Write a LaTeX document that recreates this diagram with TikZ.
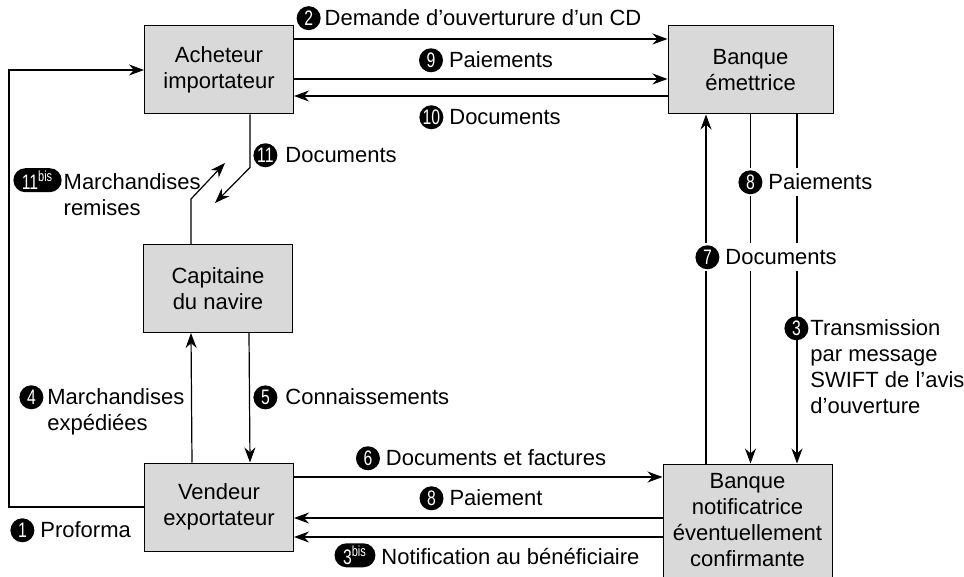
\documentclass[tikz,border=0pt]{standalone}
\usepackage{fontspec}
\setmainfont{Liberation Sans}
\newfontfamily\numfont{Liberation Sans}[FakeStretch=0.75]
\usetikzlibrary{arrows.meta,shapes.misc}

\definecolor{boxgray}{RGB}{217,217,217}

% black disc with a white step number
\newcommand\stepnum[1]{\tikz[baseline=(nbc.base)]\node[circle, fill=black, text=white, inner sep=0pt, minimum size=12pt, font=\numfont\fontsize{10.5}{11}\selectfont] (nbc) {#1};}
% the same as a pill, with "bis"
\newcommand\stepbis[1]{\tikz[baseline=(nbc.base)]\node[rounded rectangle, fill=black, text=white, inner xsep=2pt, inner ysep=0pt, minimum height=12pt, font=\numfont\fontsize{10.5}{11}\selectfont] (nbc) {#1\textsuperscript{bis}};}

\begin{document}
\begin{tikzpicture}[
    x = 0.5pt, y = -0.5pt, % one unit = one pixel, y downward
    font = \fontsize{11}{13}\selectfont,
    line width = 0.6pt,
    box/.style = {draw, fill=boxgray, align=center, inner sep=1pt, line width=0.5pt,
                  minimum width=74.5pt, minimum height=44pt},
    lab/.style = {inner sep=1pt},
    labw/.style = {lab, fill=white},
    arr/.style = {-{Stealth[length=7.5pt, width=5.5pt]}}
    ]
    \clip (0,0) rectangle (964,577);

    \node[box] (ach) at (219,70) {Acheteur\\importateur};
    \node[box, minimum width=82.5pt] (bem) at (750.5,70) {Banque\\émettrice};
    \node[box] (cap) at (218,288.5) {Capitaine\\du navire};
    \node[box] (ven) at (219,507) {Vendeur\\exportateur};
    \node[box, minimum width=84.5pt, minimum height=62pt, text depth=6pt] (bno) at (747.5,526)
        {Banque\\notificatrice\\éventuellement\\confirmante};

    \coordinate (lft) at (9,0);
    \coordinate (m11) at (225,163);
    \coordinate (d11) at (215,203);

    % left side
    \draw[arr] (ven.west) -- (ven.west -| lft) |- (ach.west);
    \draw[arr] ([xshift=15.5pt]ach.south) -- ++(0,53) -- (d11);
    \draw[arr] ([xshift=-13.5pt]cap.north) -- ++(0,-45) -- (m11);
    \draw[arr] ([xshift=-13.5pt]ven.north) -- ([xshift=-13.5pt]cap.south);
    \draw[arr] ([xshift=15.5pt]cap.south) -- ([xshift=15.5pt]ven.north);

    % top and bottom
    \draw[arr] ([yshift=15.5pt]ach.east) -- ([yshift=15.5pt]ach.east -| bem.west);
    \draw[arr] ([yshift=-4.5pt]ach.east) -- ([yshift=-4.5pt]ach.east -| bem.west);
    \draw[arr] ([yshift=-13pt]ach.east -| bem.west) -- ([yshift=-13pt]ach.east);
    \draw[arr] ([yshift=15pt]ven.east) -- ([yshift=15pt]ven.east -| bno.west);
    \draw[arr] ([yshift=-5.5pt]ven.east -| bno.west) -- ([yshift=-5.5pt]ven.east);
    \draw[arr] ([yshift=-15pt]ven.east -| bno.west) -- ([yshift=-15pt]ven.east);

    % right side
    \draw[arr] ([xshift=-22.25pt]bem.south |- bno.north) -- ([xshift=-22.25pt]bem.south);
    \draw[arr] (bem.south) -- (bem.south |- bno.north);
    \draw[arr] ([xshift=23.25pt]bem.south) -- ([xshift=23.25pt]bem.south |- bno.north);

    % labels
    \node[lab, anchor=base] (l2) at (469,25.5) {\stepnum{2}\hspace{2pt}Demande d’ouverturure d’un CD};
    \node[lab, anchor=base] (l9) at (486,67.5) {\stepnum{9}\hspace{3pt}Paiements};
    \node[lab, anchor=base] (l10) at (490,124.5) {\stepnum{10}\hspace{3pt}Documents};
    \node[lab, anchor=base west] (l11) at (251,162.5) {\stepnum{11}\hspace{4pt}Documents};
    \node[lab, anchor=base west] (l11b) at (11,189.5)
        {\stepbis{11}\hspace{1pt}\begin{tabular}[t]{@{}l@{}}Marchandises\\remises\end{tabular}};
    \node[lab, anchor=base west] (l4) at (17,404.5)
        {\stepnum{4}\hspace{2pt}\begin{tabular}[t]{@{}l@{}}Marchandises\\expédiées\end{tabular}};
    \node[lab, anchor=base west] (l5) at (251,404.5) {\stepnum{5}\hspace{4pt}Connaissements};
    \node[lab, anchor=base] (l6) at (481,465.5) {\stepnum{6}\hspace{3pt}Documents et factures};
    \node[lab, anchor=base] (l8b) at (481,505.5) {\stepnum{8}\hspace{3pt}Paiement};
    \node[lab, anchor=base] (l3b) at (487,564.5) {\stepbis{3}\hspace{3pt}Notification au bénéficiaire};
    \node[lab, anchor=base west] (l1) at (8,537.5) {\stepnum{1}\hspace{3pt}Proforma};
    \node[labw, anchor=base west] (l8a) at (736,189.5) {\stepnum{8}\hspace{3pt}Paiements};
    \node[labw, anchor=base west] (l7) at (693,264.5) {\stepnum{7}\hspace{3pt}Documents};
    \node[lab, anchor=base west] (l3) at (782,335.5)
        {\stepnum{3}\hspace{1pt}\begin{tabular}[t]{@{}l@{}}Transmission\\par message\\SWIFT de l’avis\\d’ouverture\end{tabular}};
\end{tikzpicture}
\end{document}
